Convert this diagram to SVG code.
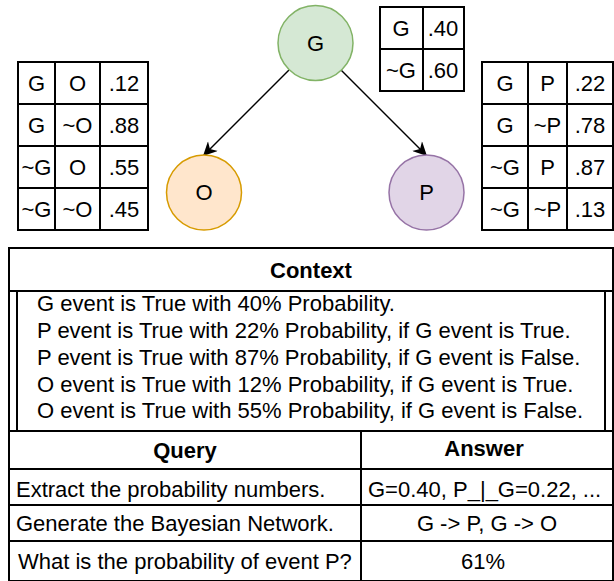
<svg xmlns="http://www.w3.org/2000/svg" width="614" height="581" viewBox="0 0 614 581">
<style>
text{font-family:"Liberation Sans",Arial,sans-serif;fill:#000;font-size:22px;dominant-baseline:central}
.t{text-anchor:middle}
.b{font-weight:bold;text-anchor:middle}
.g{fill:none;stroke:#000;stroke-width:2}
.e{stroke:#000;stroke-width:1.5;fill:none}
</style>
<defs>
<marker id="ah" viewBox="0 0 10 10" refX="9" refY="5" markerWidth="15" markerHeight="14" markerUnits="userSpaceOnUse" orient="auto">
<path d="M0,0 L10,5 L0,10 L3,5 Z" fill="#000"/>
</marker>
</defs>
<rect width="614" height="581" fill="#fff"/>
<g id="connectors">
<line class="e" x1="289" y1="70" x2="204" y2="155" marker-end="url(#ah)"/>
<line class="e" x1="341" y1="70" x2="426" y2="155" marker-end="url(#ah)"/>
</g>
<g id="node-G">
<circle cx="315.5" cy="43" r="37.5" fill="#d5e8d4" stroke="#82b366" stroke-width="1.5"/>
<text class="t" x="315.5" y="43">G</text>
</g>
<g id="node-O">
<circle cx="204" cy="192.5" r="37.5" fill="#ffe6cc" stroke="#d79b00" stroke-width="1.5"/>
<text class="t" x="204" y="192.5">O</text>
</g>
<g id="node-P">
<circle cx="426.5" cy="192.5" r="37.5" fill="#e1d5e7" stroke="#9673a6" stroke-width="1.5"/>
<text class="t" x="426.5" y="192.5">P</text>
</g>
<g id="table-G">
<rect class="g" x="380" y="7" width="84" height="84"/>
<line class="g" x1="423" y1="7" x2="423" y2="91"/>
<line class="g" x1="380" y1="49" x2="464" y2="49"/>
<text class="t" x="401" y="28">G</text><text class="t" x="443" y="28">.40</text>
<text class="t" x="401" y="70">~G</text><text class="t" x="443" y="70">.60</text>
</g>
<g id="table-O">
<rect class="g" x="18" y="62" width="130" height="168"/>
<line class="g" x1="55" y1="62" x2="55" y2="230"/>
<line class="g" x1="100" y1="62" x2="100" y2="230"/>
<line class="g" x1="18" y1="104" x2="148" y2="104"/>
<line class="g" x1="18" y1="146" x2="148" y2="146"/>
<line class="g" x1="18" y1="188" x2="148" y2="188"/>
<text class="t" x="36.5" y="83">G</text><text class="t" x="77.5" y="83">O</text><text class="t" x="124" y="83">.12</text>
<text class="t" x="36.5" y="125">G</text><text class="t" x="77.5" y="125">~O</text><text class="t" x="124" y="125">.88</text>
<text class="t" x="36.5" y="167">~G</text><text class="t" x="77.5" y="167">O</text><text class="t" x="124" y="167">.55</text>
<text class="t" x="36.5" y="209">~G</text><text class="t" x="77.5" y="209">~O</text><text class="t" x="124" y="209">.45</text>
</g>
<g id="table-P">
<rect class="g" x="482" y="62" width="131" height="168"/>
<line class="g" x1="528" y1="62" x2="528" y2="230"/>
<line class="g" x1="567" y1="62" x2="567" y2="230"/>
<line class="g" x1="482" y1="104" x2="613" y2="104"/>
<line class="g" x1="482" y1="146" x2="613" y2="146"/>
<line class="g" x1="482" y1="188" x2="613" y2="188"/>
<text class="t" x="505" y="83">G</text><text class="t" x="547.5" y="83">P</text><text class="t" x="590" y="83">.22</text>
<text class="t" x="505" y="125">G</text><text class="t" x="547.5" y="125">~P</text><text class="t" x="590" y="125">.78</text>
<text class="t" x="505" y="167">~G</text><text class="t" x="547.5" y="167">P</text><text class="t" x="590" y="167">.87</text>
<text class="t" x="505" y="209">~G</text><text class="t" x="547.5" y="209">~P</text><text class="t" x="590" y="209">.13</text>
</g>
<g id="context">
<rect class="g" x="9" y="248" width="604" height="183"/>
<line class="g" x1="9" y1="291" x2="613" y2="291"/>
<line class="g" x1="17" y1="291" x2="17" y2="431"/>
<line class="g" x1="605" y1="291" x2="605" y2="431"/>
<text class="b" x="311" y="270">Context</text>
<text x="37" y="303">G event is True with 40% Probability.</text>
<text x="37" y="330">P event is True with 22% Probability, if G event is True.</text>
<text x="37" y="357">P event is True with 87% Probability, if G event is False.</text>
<text x="37" y="384">O event is True with 12% Probability, if G event is True.</text>
<text x="37" y="410">O event is True with 55% Probability, if G event is False.</text>
</g>
<g id="qa-table">
<rect class="g" x="9" y="431" width="604" height="150"/>
<line class="g" x1="361" y1="431" x2="361" y2="581"/>
<line class="g" x1="9" y1="469" x2="613" y2="469"/>
<line class="g" x1="9" y1="505" x2="613" y2="505"/>
<line class="g" x1="9" y1="541" x2="613" y2="541"/>
<text class="b" x="185" y="450">Query</text>
<text class="b" x="484" y="448">Answer</text>
<text x="16" y="489">Extract the probability numbers.</text>
<text x="368" y="489">G=0.40, P_|_G=0.22, ...</text>
<text x="16" y="523">Generate the Bayesian Network.</text>
<text class="t" x="487" y="523">G -&gt; P, G -&gt; O</text>
<text x="18" y="561">What is the probability of event P?</text>
<text class="t" x="483" y="561">61%</text>
</g>
</svg>
